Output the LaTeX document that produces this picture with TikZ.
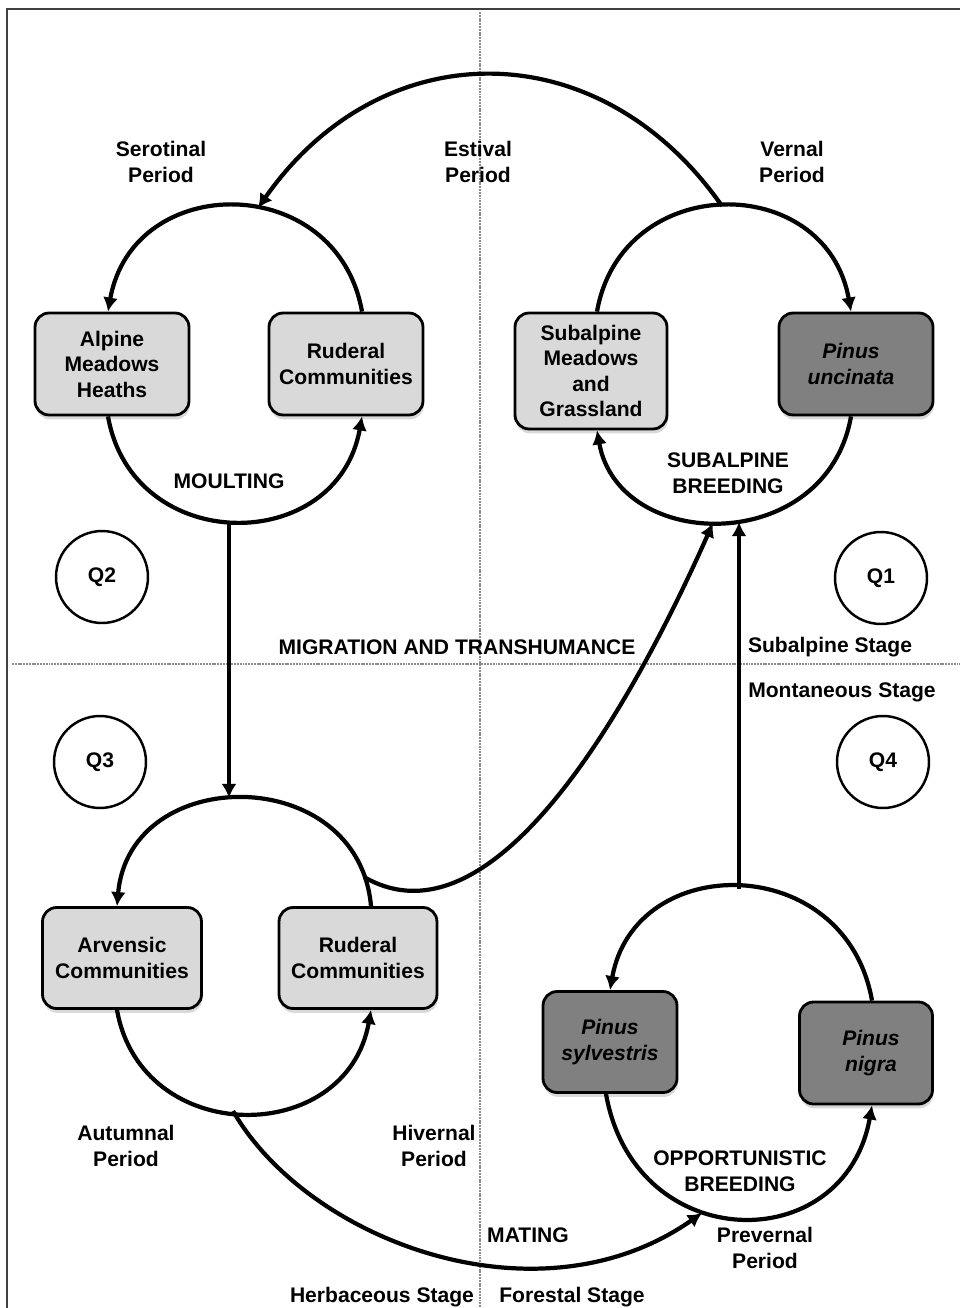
\documentclass[tikz,border=0pt]{standalone}
\usepackage{fontspec}
\setmainfont{Liberation Sans}
\usetikzlibrary{arrows.meta,shadows,calc}

\definecolor{boxlight}{gray}{0.85}
\definecolor{boxdark}{gray}{0.5}
\definecolor{divgray}{gray}{0.55}

\tikzset{
    lbl/.style={font=\fontsize{12}{14.5}\selectfont\bfseries, align=center},
    box/.style={lbl, draw, line width=1.6pt, rounded corners=8pt, fill=boxlight,
        minimum width=3.08cm, minimum height=2.04cm,
        drop shadow={shadow xshift=0.5pt, shadow yshift=-2.5pt, opacity=0.3}},
    pinebox/.style={box, fill=boxdark,
        font=\fontsize{12}{14.5}\selectfont\bfseries\itshape},
    qcirc/.style={lbl, circle, draw, line width=1.4pt, minimum size=1.84cm},
    flow/.style={line width=2.4pt, -{Latex[length=8pt,width=8.5pt]}},
    divider/.style={divgray, line width=1.1pt, dash pattern=on 1.1pt off 0.5pt}
}

\begin{document}
\begin{tikzpicture}[x=0.02cm, y=0.02cm]
    \useasboundingbox (0,0) rectangle (960,-1308);

    % frame and quadrants
    \draw[line width=1.1pt, black!75] (7,-1308) -- (7,-9) -- (960,-9);
    \draw[divider] (480,-12) -- (480,-1308);
    \draw[divider] (12,-664) -- (960,-664);

    % communities
    \node[box] (alp) at (112,-364) {Alpine\\Meadows\\Heaths};
    \node[box] (rudA) at (346,-364) {Ruderal\\Communities};
    \node[box, minimum width=3.04cm, minimum height=2.32cm]
        (sub) at (591,-371) {Subalpine\\Meadows\\and\\Grassland};
    \node[pinebox] (pun) at (856,-364) {Pinus\hspace*{0.2cm}\\uncinata\hspace*{0.2cm}};
    \node[box, minimum width=3.18cm, minimum height=2.02cm]
        (arv) at (122,-958) {Arvensic\\Communities};
    \node[box, minimum width=3.16cm, minimum height=2.02cm]
        (rudB) at (358,-958) {Ruderal\\Communities};
    \node[pinebox, minimum width=2.68cm, minimum height=2.02cm]
        (psy) at (610,-1042) {Pinus\\sylvestris};
    \node[pinebox, minimum width=2.66cm] (pni) at (866,-1053) {\hspace*{0.2cm}Pinus\\\hspace*{0.2cm}nigra};

    \foreach \q/\x/\y in {1/881/578, 2/102/577, 3/100/762, 4/883/762} {
        \node[qcirc] (q\q) at (\x,-\y) {Q\q};
    }

    % periods, phases and stages
    \foreach \n/\x/\y/\txt in {
        seroP/161/162/Serotinal\\Period, estP/478/162/Estival\\Period,
        verP/792/162/Vernal\\Period, autP/126/1146/Autumnal\\Period,
        hivP/434/1146/Hivernal\\Period, prevP/765/1248/Prevernal\\Period,
        moult/229/481/MOULTING, subB/728/473/SUBALPINE\\BREEDING,
        migr/457/647/MIGRATION AND TRANSHUMANCE,
        oppB/740/1171/OPPORTUNISTIC\\BREEDING, mating/528/1235/MATING,
        subSt/830/647/Subalpine Stage, montSt/842/692/Montaneous Stage,
        herbSt/382/1297/Herbaceous Stage, forSt/572/1297/Forestal Stage%
    } {
        \node[lbl] (\n) at (\x,-\y) {\txt};
    }

    % cycles
    \draw[flow] ($(rudA.north)+(16,0)$) .. controls +(100:143) and +(80:143) .. ($(alp.north)+(-4,0)$);
    \draw[flow] ($(alp.south)+(-4,0)$) .. controls +(-80:142) and +(-100:142) .. ($(rudA.south)+(16,0)$);
    \draw[flow] ($(sub.north)+(6,0)$) .. controls +(80:143) and +(100:143) .. ($(pun.north)+(-5,0)$);
    \draw[flow] ($(pun.south)+(-5,0)$) .. controls +(-100:142) and +(-80:125) .. ($(sub.south)+(6,0)$);
    \draw[flow] ($(rudB.north)+(13,0)$) .. controls +(95:144) and +(85:144) .. ($(arv.north)+(-5,0)$);
    \draw[flow] ($(arv.south)+(-5,0)$) .. controls +(-80:140) and +(-100:140) .. ($(rudB.south)+(13,0)$);
    \draw[flow] ($(pni.north)+(6,0)$) .. controls +(100:152) and +(80:142) .. (psy.north);
    \draw[flow] ($(psy.south)+(-4,0)$) .. controls +(-80:165) and +(-100:156) .. ($(pni.south)+(6,0)$);

    % links between cycles
    \coordinate (tlTop) at (258,-208);
    \coordinate (tlLow) at (229,-521);
    \coordinate (trTop) at (722,-206);
    \coordinate (trLow) at (739,-522);
    \coordinate (trArc) at (713,-523);
    \coordinate (blTop) at (229,-798);
    \coordinate (blArc) at (364,-877);
    \coordinate (blLow) at (233,-1111);
    \coordinate (brTop) at (739,-889);
    \coordinate (brArc) at (702,-1213);

    \draw[flow] (trTop) .. controls +(125:215) and +(55:215) .. (tlTop);
    \draw[flow] (tlLow) -- (blTop);
    \draw[flow] (brTop) -- (trLow);
    \draw[flow] (blArc) .. controls +(-30:150) and +(-114:200) .. (trArc);
    \draw[flow] (blLow) .. controls +(-60:150) and +(-145:200) .. (brArc);
\end{tikzpicture}
\end{document}
